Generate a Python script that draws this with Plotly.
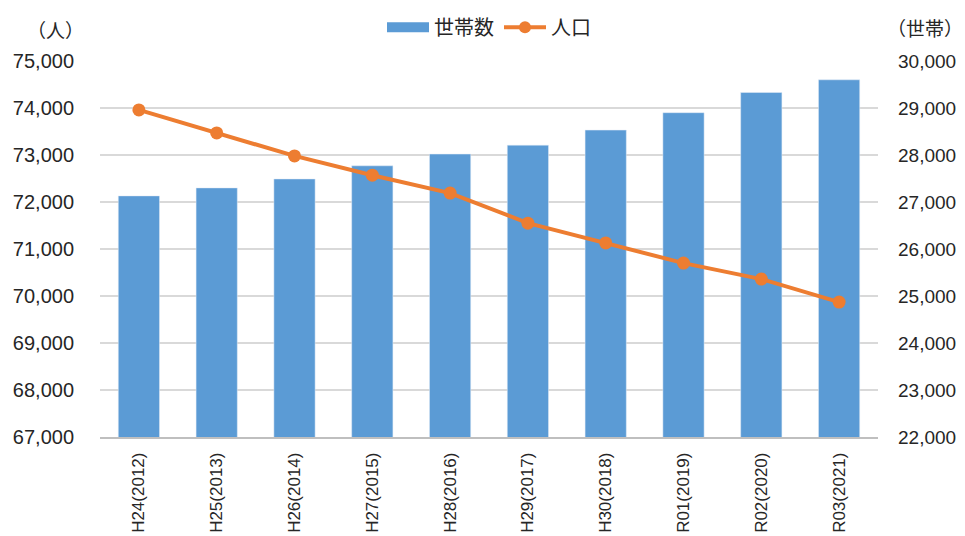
import plotly.graph_objects as go

categories = ["H24(2012)", "H25(2013)", "H26(2014)", "H27(2015)", "H28(2016)",
              "H29(2017)", "H30(2018)", "R01(2019)", "R02(2020)", "R03(2021)"]
households = [27130, 27300, 27490, 27770, 28020, 28210, 28530, 28900, 29330, 29600]
population = [73960, 73470, 72980, 72570, 72190, 71550, 71130, 70700, 70360, 69870]

left_ticks = [67000, 68000, 69000, 70000, 71000, 72000, 73000, 74000, 75000]
right_ticks = [22000, 23000, 24000, 25000, 26000, 27000, 28000, 29000, 30000]

BLUE = "#5B9BD5"
ORANGE = "#ED7D31"
NUM_FONT = "Liberation Sans, Arial, sans-serif"
JP_FONT = "Noto Sans CJK JP, sans-serif"
TXT = "#262626"

fig = go.Figure()

# bars on the primary (right-side) axis so the line on the overlay is drawn on top
fig.add_trace(go.Bar(
    x=categories, y=households, yaxis="y", name="世帯数",
    marker=dict(color=BLUE), showlegend=False,
))
fig.add_trace(go.Scatter(
    x=categories, y=population, yaxis="y2", name="人口",
    mode="lines+markers",
    line=dict(color=ORANGE, width=4),
    marker=dict(color=ORANGE, size=13),
    showlegend=False,
))
# legend entries
fig.add_trace(go.Scatter(
    x=[None], y=[None], name="世帯数", mode="lines",
    line=dict(color=BLUE, width=10), showlegend=True,
))
fig.add_trace(go.Scatter(
    x=[None], y=[None], name="人口", mode="lines+markers",
    line=dict(color=ORANGE, width=4), marker=dict(color=ORANGE, size=12),
    showlegend=True,
))

# page body has an 8px margin; size the figure so the plot lands where the reference has it
fig.update_layout(
    width=957, height=528,
    margin=dict(l=92, r=87, t=53, b=99, autoexpand=False),
    paper_bgcolor="white", plot_bgcolor="white",
    bargap=0.47,
    font=dict(family=NUM_FONT, color=TXT, size=20),
    xaxis=dict(
        range=[-0.5, len(categories) - 0.5],
        tickangle=-90, tickfont=dict(size=17, family=NUM_FONT),
        showline=True, linecolor="#BFBFBF", linewidth=1.5,
        ticks="", automargin=False, showgrid=False, ticklabelstandoff=7,
    ),
    yaxis=dict(
        range=[22000, 30000], tickvals=right_ticks, tickformat=",",
        side="right", tickfont=dict(size=19),
        showgrid=True, gridcolor="#D9D9D9", gridwidth=1.5,
        zeroline=False, ticks="", ticklabelstandoff=19,
        automargin=False,
    ),
    yaxis2=dict(
        range=[67000, 75000], tickvals=left_ticks, tickformat=",",
        overlaying="y", side="left", showgrid=False, zeroline=False,
        ticks="", ticklabelstandoff=25, automargin=False,
    ),
    legend=dict(
        orientation="h", x=0.5, xanchor="center", y=1.09, yanchor="middle",
        font=dict(family=JP_FONT, size=20, color=TXT),
        itemwidth=42, bgcolor="rgba(0,0,0,0)",
    ),
    annotations=[
        dict(text="（人）", xref="paper", yref="paper", x=-0.057, y=1.083,
             xanchor="center", yanchor="middle", showarrow=False,
             font=dict(family=JP_FONT, size=19, color=TXT)),
        dict(text="（世帯）", xref="paper", yref="paper", x=1.06, y=1.09,
             xanchor="center", yanchor="middle", showarrow=False,
             font=dict(family=JP_FONT, size=19, color=TXT)),
    ],
)

fig.write_html("out.html")
